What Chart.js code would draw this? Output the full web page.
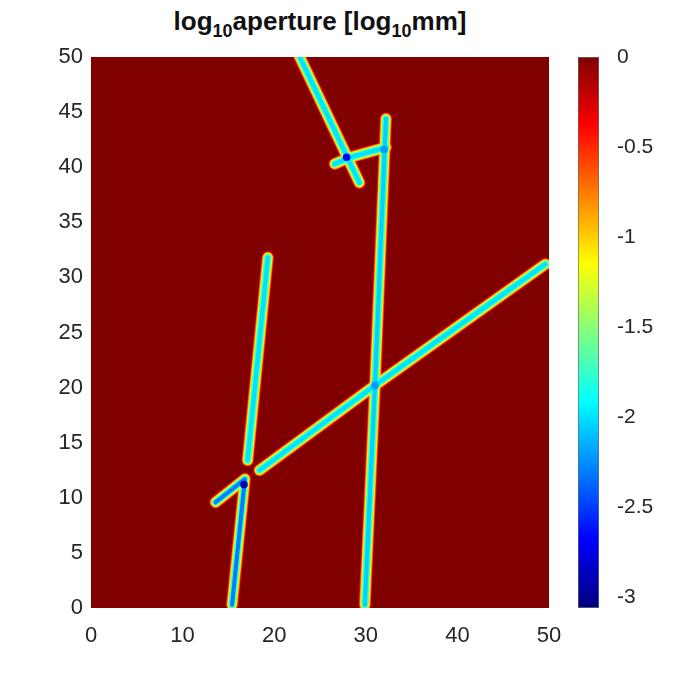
<!DOCTYPE html>
<html><head><meta charset="utf-8">
<script src="https://cdn.jsdelivr.net/npm/chart.js@4.4.1/dist/chart.umd.min.js"></script>
<style>
html,body{margin:0;padding:0;background:#fff;width:680px;height:681px;overflow:hidden;}
#title{position:absolute;left:91px;width:458px;top:6px;text-align:center;font:bold 26px "Liberation Sans",Arial,sans-serif;color:#111;white-space:nowrap;}
#title sub{font-size:18px;vertical-align:baseline;position:relative;top:7px;}
#main{position:absolute;left:0;top:0;}
#cb{position:absolute;left:560px;top:0;}
</style></head>
<body>
<div id="title">log<sub>10</sub>aperture [log<sub>10</sub>mm]</div>
<canvas id="main" width="580" height="681"></canvas>
<canvas id="cb" width="120" height="681"></canvas>
<script>
// ---- data ----
const xTicks = [0, 10, 20, 30, 40, 50];
const yTicks = [0, 5, 10, 15, 20, 25, 30, 35, 40, 45, 50];
const cbTicks = [0, -0.5, -1, -1.5, -2, -2.5, -3];
const cbMin = -3.06, cbMax = 0;
const backgroundValue = 0;

// fracture traces [x, y] in model coordinates
const fractureLongVertical = [[29.9, 0.3], [31.0, 20.2], [32.2, 44.4]];
const fractureLongDiagonal = [[18.4, 12.5], [31.0, 20.2], [49.6, 31.2]];
const fractureShort = [[17.1, 13.4], [19.3, 31.8]];
const fractureBottomLeft = [[15.4, 0.3], [16.8, 11.7], [13.6, 9.6]];
const fractureTopDiagonal = [[22.45, 50.6], [29.3, 38.6]];
const fractureConnector = [[26.6, 40.3], [28.3, 40.9], [32.2, 41.8]];
const fractures = [fractureLongVertical, fractureLongDiagonal, fractureShort,
                   fractureBottomLeft, fractureTopDiagonal, fractureConnector];
const fractureCoreValues = [-2.05, -2.0, -2.0, -2.3, -2.0, -2.0];

// aperture halo values (log10 mm) from the fracture edge inwards
const haloValues = [-0.35, -0.75, -1.1, -1.45, -1.75];

// junction low-aperture spots
const junctions = [[16.7, 11.2], [27.9, 40.9], [31.0, 20.2], [32.0, 41.6]];
const junctionValues = [-2.9, -2.7, -2.2, -2.2];

// ---- colormap (jet) ----
function jet(t) {
  const c = v => Math.round(255 * Math.max(0, Math.min(1, v)));
  return `rgb(${c(1.5 - Math.abs(4 * t - 3))},${c(1.5 - Math.abs(4 * t - 2))},${c(1.5 - Math.abs(4 * t - 1))})`;
}
function valueColor(v) { return jet((v - cbMin) / (cbMax - cbMin)); }

const FONT = '"Liberation Sans", Arial, Helvetica, sans-serif';
const TICKCOL = '#262626';

// ---- main map ----
const haloWidths = [12.5, 11, 9.5, 8, 6.5];
const coreWidth = 4;
const datasets = [];
haloValues.forEach((v, li) => {
  fractures.forEach(f => {
    datasets.push({
      data: f.map(p => ({x: p[0], y: p[1]})),
      borderColor: valueColor(v), borderWidth: haloWidths[li],
      order: 20 - li
    });
  });
});
fractures.forEach((f, fi) => {
  datasets.push({
    data: f.map(p => ({x: p[0], y: p[1]})),
    borderColor: valueColor(fractureCoreValues[fi]), borderWidth: coreWidth,
    order: 5
  });
});
datasets.push({
  data: junctions.map(p => ({x: p[0], y: p[1]})),
  showLine: false, pointRadius: 3.8, pointBorderWidth: 0,
  pointBackgroundColor: junctionValues.map(valueColor),
  order: 0
});
datasets.forEach(d => {
  d.tension = 0; d.fill = false; d.clip = 0;
  if (d.pointRadius === undefined) d.pointRadius = 0;
  d.borderCapStyle = 'round'; d.borderJoinStyle = 'round';
});

const bgPlugin = {
  id: 'bg',
  beforeDatasetsDraw(chart) {
    const a = chart.chartArea, ctx = chart.ctx;
    ctx.save();
    ctx.fillStyle = valueColor(backgroundValue);
    ctx.fillRect(a.left, a.top, a.right - a.left, a.bottom - a.top);
    ctx.restore();
  }
};

new Chart(document.getElementById('main'), {
  type: 'line',
  data: {datasets},
  plugins: [bgPlugin],
  options: {
    responsive: false, animation: false,
    layout: {padding: {left: 0, top: 57, right: 31, bottom: 0}},
    plugins: {legend: {display: false}, tooltip: {enabled: false}},
    scales: {
      x: {
        type: 'linear', min: 0, max: 50,
        afterBuildTicks: s => { s.ticks = xTicks.map(v => ({value: v})); },
        afterFit: s => { s.height = 73; },
        grid: {display: false, drawTicks: false}, border: {display: false},
        ticks: {font: {family: FONT, size: 22}, color: TICKCOL, padding: 15, maxRotation: 0}
      },
      y: {
        type: 'linear', min: 0, max: 50,
        afterBuildTicks: s => { s.ticks = yTicks.map(v => ({value: v})); },
        afterFit: s => { s.width = 91; },
        grid: {display: false, drawTicks: false}, border: {display: false},
        ticks: {font: {family: FONT, size: 22}, color: TICKCOL, padding: 8}
      }
    }
  }
});

// ---- colorbar ----
new Chart(document.getElementById('cb'), {
  type: 'bar',
  data: {
    labels: ['cb'],
    datasets: [{
      data: [[cbMin, cbMax]],
      backgroundColor: ctx => {
        const ch = ctx.chart, a = ch.chartArea;
        if (!a) return valueColor(0);
        const ys = ch.scales.y;
        const g = ch.ctx.createLinearGradient(0, ys.getPixelForValue(cbMin), 0, ys.getPixelForValue(cbMax));
        for (let i = 0; i <= 32; i++) g.addColorStop(i / 32, jet(i / 32));
        return g;
      },
      borderColor: '#6b6b6b', borderWidth: 1, borderSkipped: false,
      barPercentage: 1, categoryPercentage: 1
    }]
  },
  options: {
    responsive: false, animation: false,
    layout: {padding: {left: 18, top: 57, right: 0, bottom: 73}},
    plugins: {legend: {display: false}, tooltip: {enabled: false}},
    scales: {
      x: {display: false},
      y: {
        position: 'right', min: cbMin, max: cbMax,
        afterBuildTicks: s => { s.ticks = cbTicks.map(v => ({value: v})); },
        afterFit: s => { s.width = 81; },
        grid: {display: false, drawTicks: false}, border: {display: false},
        ticks: {font: {family: FONT, size: 21}, color: TICKCOL, padding: 18,
                callback: v => String(v)}
      }
    }
  }
});
</script>
</body></html>
